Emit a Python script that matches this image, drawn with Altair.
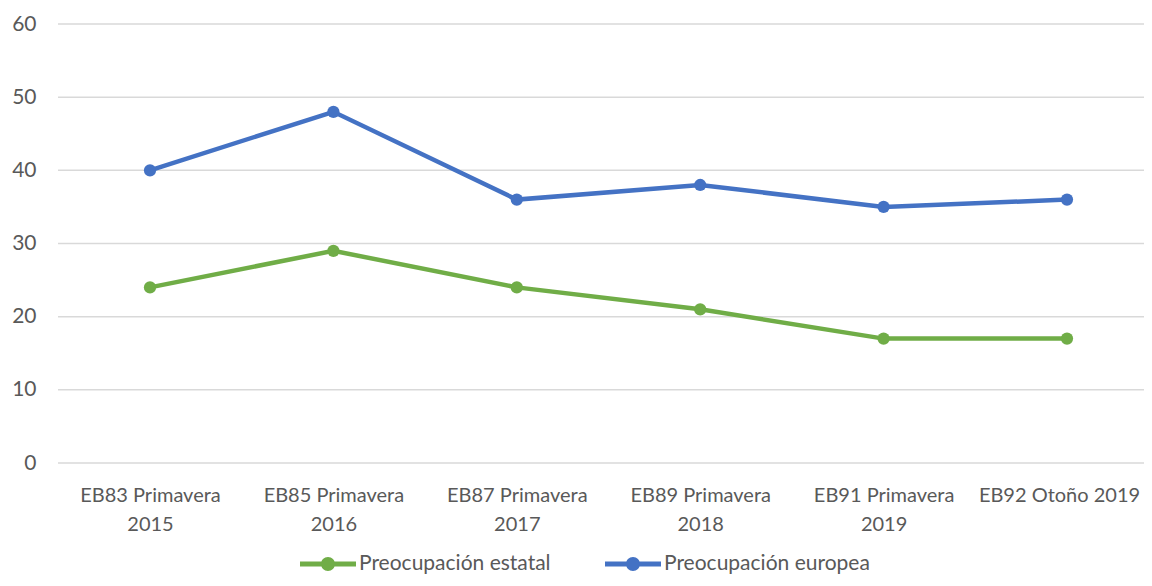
import altair as alt
import pandas as pd

categories = [
    "EB83 Primavera\n2015",
    "EB85 Primavera\n2016",
    "EB87 Primavera\n2017",
    "EB89 Primavera\n2018",
    "EB91 Primavera\n2019",
    "EB92 Otoño 2019",
]
series_names = ["Preocupación estatal", "Preocupación europea"]
estatal = [24, 29, 24, 21, 17, 17]
europea = [40, 48, 36, 38, 35, 36]
colors = ["#70AD47", "#4472C4"]
y_ticks = [0, 10, 20, 30, 40, 50, 60]

rows = []
for name, vals in zip(series_names, [estatal, europea]):
    for c, v in zip(categories, vals):
        rows.append({"cat": c, "serie": name, "valor": v})
df = pd.DataFrame(rows)
grid_df = pd.DataFrame({"valor": y_ticks})

FONT = "Lato"
TXT = "#595959"
W = 1086
H = 439

x = alt.X(
    "cat:N",
    sort=categories,
    title=None,
    scale=alt.Scale(type="point", range=[92, 1009], padding=0),
    axis=alt.Axis(
        labelExpr="split(datum.label, '\\n')",
        labelAngle=0,
        labelFont=FONT,
        labelFontSize=20,
        labelColor=TXT,
        labelPadding=22,
        labelLineHeight=29,
        labelLimit=300,
        labelOffset={"condition": {"test": "datum.index == 1", "value": -8}, "value": 0},
        ticks=False,
        domain=False,
        grid=False,
        labelBaseline="top",
    ),
)
y = alt.Y(
    "valor:Q",
    title=None,
    scale=alt.Scale(domain=[0, 60], nice=False),
    axis=alt.Axis(
        values=y_ticks,
        labelFont=FONT,
        labelFontSize=21,
        labelColor=TXT,
        labelPadding=22,
        ticks=False,
        domain=False,
        grid=False,
    ),
)
color_scale = alt.Scale(domain=series_names, range=colors)

legend_path = (
    "M-1,-0.09H1V0.09H-1Z "
    "M0.25,0A0.25,0.25,0,1,1,-0.25,0A0.25,0.25,0,1,1,0.25,0Z"
)
legend = alt.Legend(
    orient="none",
    direction="horizontal",
    legendX=242,
    legendY=512,
    symbolType=legend_path,
    symbolSize=3136,
    symbolStrokeWidth=0,
    symbolOpacity=1,
    labelFont=FONT,
    labelFontSize=21,
    labelColor=TXT,
    labelOffset=3,
    labelLimit=400,
    columnPadding=54,
    padding=0,
)
color = alt.Color("serie:N", scale=color_scale, title=None, legend=legend)

grid = alt.Chart(grid_df).mark_rule(color="#d9d9d9", strokeWidth=1.5).encode(
    y=y,
    x=alt.value(0),
    x2=alt.value(W),
)
lines = alt.Chart(df).mark_line(strokeWidth=4.5).encode(x=x, y=y, color=color)
points = alt.Chart(df).mark_point(filled=True, size=150, opacity=1).encode(
    x=x, y=y, color=color
)

chart = (
    alt.layer(grid, lines, points)
    .properties(
        width=W,
        height=H,
        autosize=alt.AutoSizeParams(type="none"),
        padding={"left": 50, "top": 16, "right": 0, "bottom": 115},
    )
    .configure(background="white")
    .configure_view(stroke=None)
)

chart.save("out.html", embed_options={"renderer": "svg", "actions": False})
